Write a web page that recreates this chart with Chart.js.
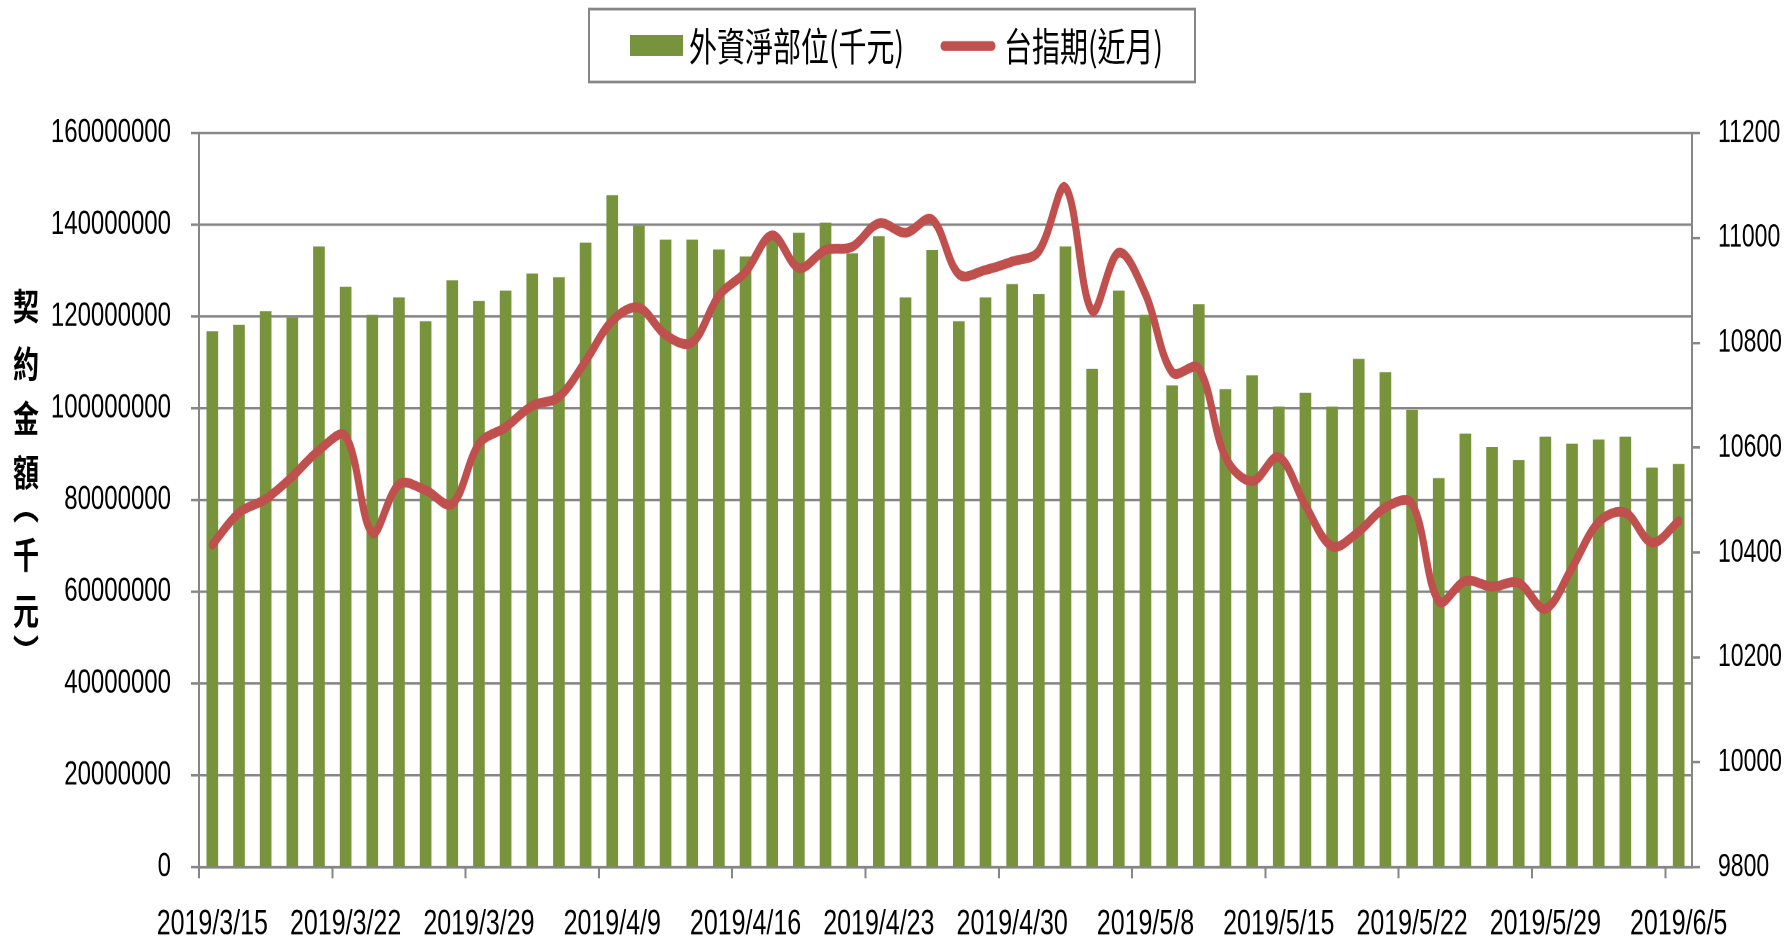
<!DOCTYPE html>
<html>
<head>
<meta charset="utf-8">
<script src="https://cdn.jsdelivr.net/npm/chart.js@4.4.1/dist/chart.umd.min.js"></script>
<style>
html, body { margin: 0; padding: 0; background: #fff; }
body { width: 1789px; height: 947px; }
#wrap { width: 1789px; height: 676px; transform-origin: 0 0; }
</style>
</head>
<body>
<div id="wrap"><canvas id="myChart" width="1789" height="676"></canvas></div>
<script>
// trading days shown on the x axis
var dateLabels = [
  '2019/3/15','2019/3/18','2019/3/19','2019/3/20','2019/3/21','2019/3/22',
  '2019/3/25','2019/3/26','2019/3/27','2019/3/28','2019/3/29',
  '2019/4/1','2019/4/2','2019/4/3','2019/4/8','2019/4/9',
  '2019/4/10','2019/4/11','2019/4/12','2019/4/15','2019/4/16',
  '2019/4/17','2019/4/18','2019/4/19','2019/4/22','2019/4/23',
  '2019/4/24','2019/4/25','2019/4/26','2019/4/29','2019/4/30',
  '2019/5/2','2019/5/3','2019/5/6','2019/5/7','2019/5/8',
  '2019/5/9','2019/5/10','2019/5/13','2019/5/14','2019/5/15',
  '2019/5/16','2019/5/17','2019/5/20','2019/5/21','2019/5/22',
  '2019/5/23','2019/5/24','2019/5/27','2019/5/28','2019/5/29',
  '2019/5/30','2019/5/31','2019/6/3','2019/6/4','2019/6/5'
];

// 外資淨部位(千元)
var foreignNet = [
  116700000, 118100000, 121100000, 119700000, 135200000, 126400000,
  120300000, 124100000, 118900000, 127800000, 123300000,
  125600000, 129300000, 128500000, 136000000, 146400000,
  139700000, 136700000, 136700000, 134500000, 133000000,
  137600000, 138200000, 140400000, 133700000, 137400000,
  124100000, 134400000, 118900000, 124100000, 127000000,
  124800000, 135200000, 108500000, 125600000, 120300000,
  104900000, 122600000, 104100000, 107100000, 100300000,
  103300000, 100300000, 110700000, 107800000, 99600000,
  84700000, 94400000, 91500000, 88600000, 93700000,
  92200000, 93100000, 93700000, 87000000, 87800000
];

// 台指期(近月)
var futuresClose = [
  10415, 10476, 10502, 10545, 10595, 10622,
  10438, 10530, 10519, 10493, 10607,
  10639, 10680, 10697, 10765, 10842,
  10867, 10815, 10801, 10890, 10935,
  11005, 10943, 10977, 10983, 11028,
  11010, 11035, 10931, 10939, 10955,
  10975, 11096, 10861, 10972, 10893,
  10744, 10751, 10582, 10536, 10582,
  10490, 10412, 10440, 10486, 10493,
  10307, 10346, 10335, 10342, 10293,
  10371, 10458, 10476, 10419, 10460
];

var seriesNames = ['外資淨部位(千元)', '台指期(近月)'];
var yTitleChars = ['契', '約', '金', '額', '︵', '千', '元', '︶'];
var leftAxis = [0, 160000000, 20000000];   // min, max, step
var rightAxis = [9800, 11200, 200];

// the reference picture is stretched vertically, so draw short and scale up
var K = 947 / 676;
document.getElementById('wrap').style.transform = 'scaleY(' + K + ')';

var GRAY = '#868686';
var fontFamily = "'Liberation Sans', Arial, sans-serif";

function plainNumber(v) { return String(v); }

var extras = {
  id: 'extras',
  afterDraw: function(chart) {
    var ctx = chart.ctx;
    var bar = chart.data.datasets[0], line = chart.data.datasets[1];
    var midY = 46 / K;
    ctx.save();
    // legend frame
    ctx.strokeStyle = GRAY;
    ctx.lineWidth = 2;
    ctx.strokeRect(589, 9 / K, 606, 73 / K);
    ctx.fillStyle = bar.backgroundColor;
    ctx.fillRect(630, 35 / K, 53, 21 / K);
    ctx.strokeStyle = line.borderColor;
    ctx.lineWidth = 7;
    ctx.lineCap = 'round';
    ctx.beginPath();
    ctx.moveTo(944, midY);
    ctx.lineTo(992, midY);
    ctx.stroke();
    ctx.fillStyle = '#000';
    ctx.font = '28px "Noto Sans CJK TC"';
    ctx.textBaseline = 'middle';
    ctx.fillText(bar.label, 689, midY);
    ctx.fillText(line.label, 1004, midY);
    // vertical axis title, one character per row
    ctx.font = 'bold 26px "Noto Sans CJK TC"';
    ctx.textAlign = 'center';
    var ys = [306, 364, 418, 472, 506, 555, 611, 652];
    for (var i = 0; i < yTitleChars.length; i++) {
      ctx.fillText(yTitleChars[i], 26, ys[i] / K);
    }
    ctx.restore();
  }
};

var ctx = document.getElementById('myChart');
var myChart = new Chart(ctx, {
  type: 'bar',
  data: {
    labels: dateLabels,
    datasets: [{
      type: 'bar',
      label: seriesNames[0],
      data: foreignNet,
      backgroundColor: '#77933C',
      barThickness: 11,
      yAxisID: 'y',
      order: 2
    }, {
      type: 'line',
      label: seriesNames[1],
      data: futuresClose,
      borderColor: '#C0504D',
      borderWidth: 7,
      pointRadius: 0,
      tension: 0.35,
      borderCapStyle: 'round',
      borderJoinStyle: 'round',
      yAxisID: 'y1',
      order: 1
    }]
  },
  options: {
    responsive: false,
    devicePixelRatio: 2,
    animation: false,
    layout: { padding: { top: 95, left: 0, right: 0, bottom: 0 } },
    plugins: {
      legend: { display: false },
      tooltip: { enabled: false }
    },
    scales: {
      x: {
        offset: true,
        grid: {
          offset: true,
          drawOnChartArea: false,
          tickLength: 8,
          lineWidth: 2,
          tickColor: function(c) { return c.index % 5 === 0 ? GRAY : 'rgba(0,0,0,0)'; }
        },
        border: { color: GRAY, width: 2 },
        ticks: {
          autoSkip: false,
          maxRotation: 0,
          minRotation: 0,
          padding: 18,
          color: '#000',
          font: { family: fontFamily, size: 25 },
          callback: function(value, index) {
            return index % 5 === 0 ? this.getLabelForValue(value) : '';
          }
        },
        afterFit: function(scale) { scale.height = 57; }
      },
      y: {
        position: 'left',
        min: leftAxis[0],
        max: leftAxis[1],
        grid: { color: GRAY, lineWidth: 1.8, tickLength: 8 },
        border: { color: GRAY, width: 2 },
        ticks: { stepSize: leftAxis[2], padding: 20, color: '#000', font: { family: fontFamily, size: 24 }, callback: plainNumber },
        afterFit: function(scale) { scale.width = 199; }
      },
      y1: {
        position: 'right',
        min: rightAxis[0],
        max: rightAxis[1],
        grid: { drawOnChartArea: false, color: GRAY, lineWidth: 1.8, tickLength: 8 },
        border: { color: GRAY, width: 2 },
        ticks: { stepSize: rightAxis[2], padding: 18, color: '#000', font: { family: fontFamily, size: 23 }, callback: plainNumber },
        afterFit: function(scale) { scale.width = 97; }
      }
    }
  },
  plugins: [extras]
});
</script>
</body>
</html>
